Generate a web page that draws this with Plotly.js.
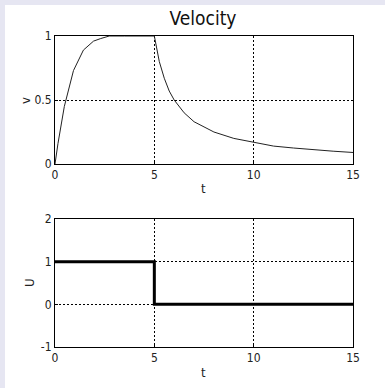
<!DOCTYPE html>
<html>
<head>
<meta charset="utf-8">
<script src="https://cdn.plot.ly/plotly-3.0.1.min.js"></script>
<style>
  html, body { margin: 0; padding: 0; background: #e6e6f2; }
  #chart { width: 385px; height: 388px; }
</style>
</head>
<body>
<div id="chart"></div>
<script>
// Velocity response v(t)
const velT = [0, 0.15, 0.47, 0.93, 1.43, 1.94, 2.3, 2.73, 3.5, 4.5, 5.0,
              5.0, 5.25, 5.5, 5.75, 6.0, 6.5, 7.0, 7.5, 8.0, 9.0, 10.0, 11.0, 12.0, 13.0, 14.0, 15.0];
const velV = [0, 0.16, 0.45, 0.73, 0.89, 0.96, 0.98, 1.0, 1.0, 1.0, 1.0,
              1.0, 0.8, 0.67, 0.57, 0.5, 0.4, 0.33, 0.29, 0.25, 0.2, 0.17, 0.14, 0.125, 0.11, 0.1, 0.09];

// Input step U(t)
const ctrlT = [0, 5, 15];
const ctrlU = [1, 0, 0];

const xTicks = [0, 5, 10, 15];
const vTicks = [0, 0.5, 1];
const vTickText = ['0', '0.5', '1'];
const uTicks = [-1, 0, 1, 2];

const FONT = '"Liberation Sans Narrow", "DejaVu Sans Condensed", Arial, sans-serif';
const W = 385, H = 388;
const tickFont = { family: FONT, size: 12, color: '#222' };
const labelFont = { family: FONT, size: 13, color: '#222' };

function xaxisDef(anchor) {
  return {
    anchor: anchor,
    domain: [55 / W, 353 / W],
    range: [0, 15],
    tickvals: xTicks,
    ticktext: xTicks.map(String),
    ticks: 'inside', ticklen: 3, tickcolor: '#000',
    showline: true, linecolor: '#000', linewidth: 1, mirror: true,
    showgrid: true, gridcolor: '#000', gridwidth: 1, griddash: '2px,2px',
    zeroline: false,
    tickfont: tickFont
  };
}

function yaxisDef(anchor, lo, hi, range, vals, text) {
  return {
    anchor: anchor,
    domain: [(H - lo) / H, (H - hi) / H],
    range: range,
    tickvals: vals, ticktext: text,
    ticks: 'inside', ticklen: 3, tickcolor: '#000',
    showline: true, linecolor: '#000', linewidth: 1, mirror: true,
    showgrid: true, gridcolor: '#000', gridwidth: 1, griddash: '2px,2px',
    zeroline: false,
    tickfont: tickFont
  };
}

// axis captions placed in paper space
function caption(text, px, py, angle) {
  return {
    text: text, xref: 'paper', yref: 'paper',
    x: px / W, y: 1 - py / H, xanchor: 'center', yanchor: 'middle',
    showarrow: false, textangle: angle, font: labelFont
  };
}

const layout = {
  width: W, height: H,
  margin: { l: 0, r: 0, t: 0, b: 0 },
  paper_bgcolor: '#e6e6f2',
  plot_bgcolor: '#ffffff',
  showlegend: false,
  title: {
    text: 'Velocity',
    font: { family: FONT, size: 19, color: '#111' },
    x: 203 / W, xanchor: 'center',
    y: 1 - 18 / H, yanchor: 'middle'
  },
  shapes: [{
    type: 'rect', xref: 'paper', yref: 'paper', layer: 'below',
    x0: 5 / W, x1: 1, y0: 0, y1: 1 - 5 / H,
    fillcolor: '#ffffff', line: { width: 0 }
  }],
  annotations: [
    caption('t', 204, 188, 0),
    caption('t', 204, 372, 0),
    caption('v', 26, 100, -90),
    caption('U', 29, 283, -90)
  ],
  xaxis: xaxisDef('y'),
  yaxis: yaxisDef('x', 164, 36, [0, 1], vTicks, vTickText),
  xaxis2: xaxisDef('y2'),
  yaxis2: yaxisDef('x2', 347, 219, [-1, 2], uTicks, uTicks.map(String))
};

const data = [
  {
    x: velT, y: velV, xaxis: 'x', yaxis: 'y',
    type: 'scatter', mode: 'lines',
    line: { color: '#222', width: 1 },
    hoverinfo: 'skip'
  },
  {
    x: ctrlT, y: ctrlU, xaxis: 'x2', yaxis: 'y2',
    type: 'scatter', mode: 'lines',
    line: { color: '#000', width: 3, shape: 'hv' },
    hoverinfo: 'skip'
  }
];

Plotly.newPlot('chart', data, layout, { staticPlot: true, displayModeBar: false });
</script>
</body>
</html>
